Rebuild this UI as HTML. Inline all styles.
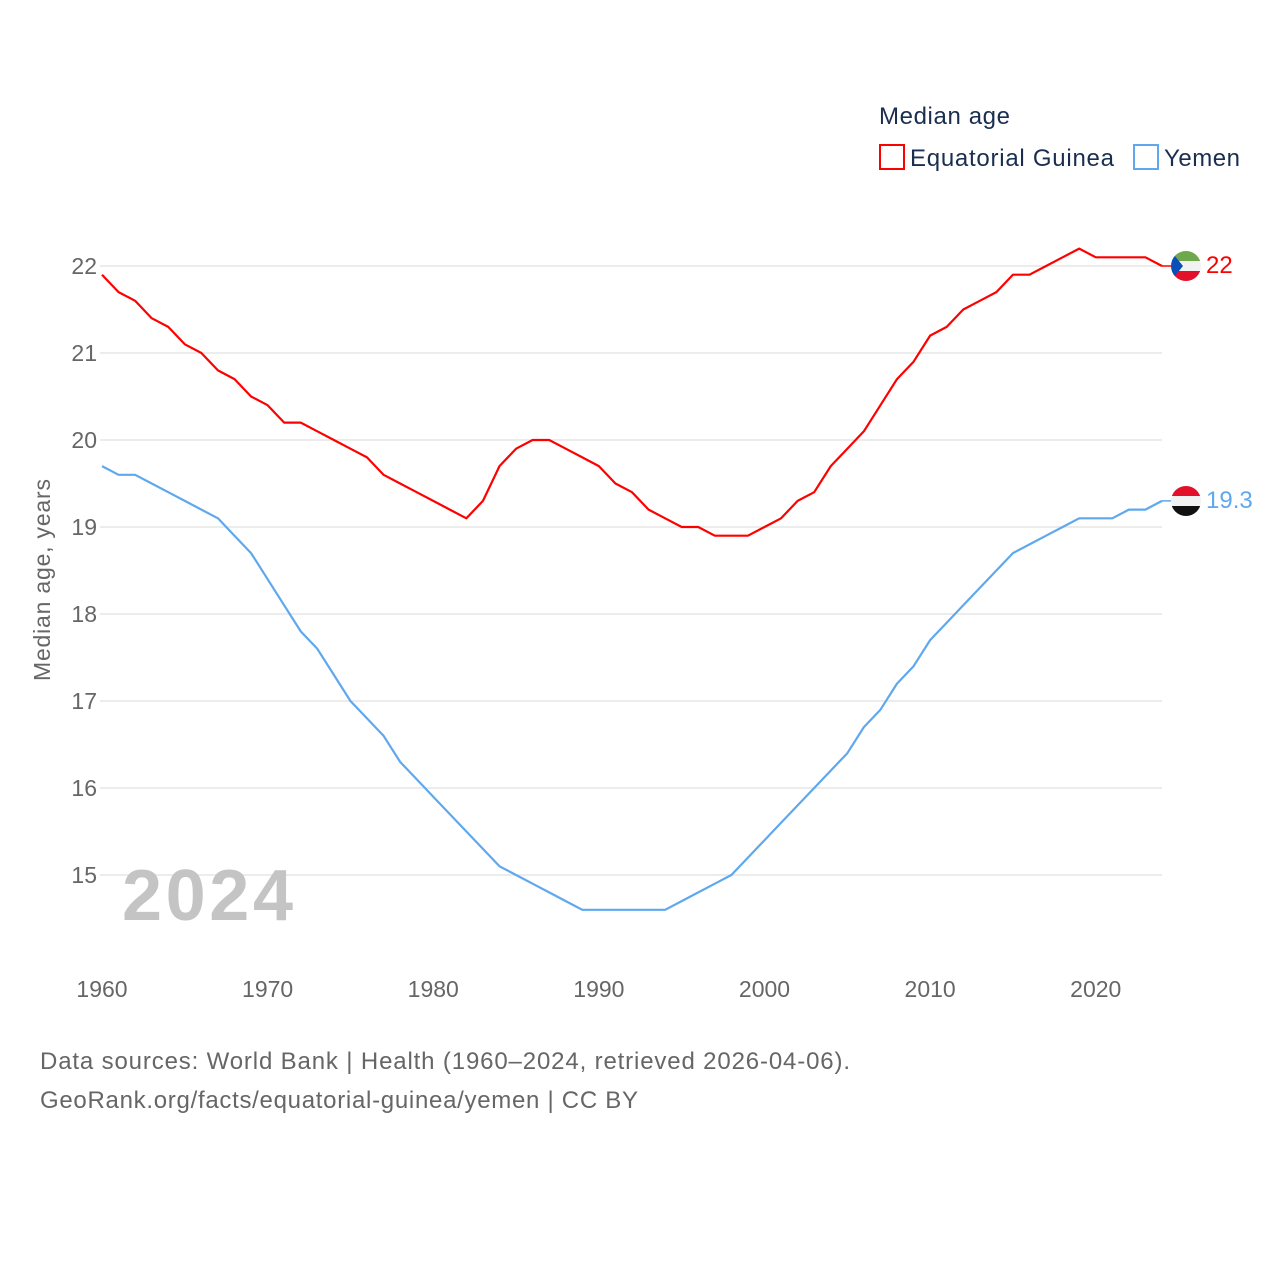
<!DOCTYPE html>
<html><head><meta charset="utf-8">
<style>
body{margin:0;background:#fff;width:1280px;height:1280px;overflow:hidden;font-family:"Liberation Sans",sans-serif;}
svg text{font-family:"Liberation Sans",sans-serif;}
</style></head>
<body>
<svg id="chart" width="1280" height="1280" viewBox="0 0 1280 1280">
<g id="grid"></g>
<g id="yticks"></g>
<g id="xticks"></g>
<text x="50" y="580" transform="rotate(-90 50 580)" text-anchor="middle" font-size="23" fill="#666" textLength="202">Median age, years</text>
<text x="122" y="920" font-size="72" font-weight="bold" fill="#c4c4c4" textLength="171">2024</text>
<g id="series"></g>
<g>
<text x="879" y="124" font-size="24" fill="#1a2e4f" textLength="131">Median age</text>
<g>
<rect x="880" y="145" width="24" height="24" fill="none" stroke="#ff0000" stroke-width="2"/>
<text x="910" y="166" font-size="24" fill="#1a2e4f" textLength="204">Equatorial Guinea</text></g>
<g>
<rect x="1134" y="145" width="24" height="24" fill="none" stroke="#5fa8ee" stroke-width="2"/>
<text x="1164" y="166" font-size="24" fill="#1a2e4f" textLength="76">Yemen</text></g>
</g>
<g>
<clipPath id="c1"><circle cx="1186" cy="266" r="15"/></clipPath>
<g clip-path="url(#c1)"><rect x="1170" y="250" width="32" height="11" fill="#6fa84a"/><rect x="1170" y="261" width="32" height="10" fill="#f2f2f2"/><rect x="1170" y="271" width="32" height="12" fill="#e3102a"/><polygon points="1170,250 1183,266 1170,282" fill="#0a4fb8"/></g></g>
<g>
<clipPath id="c2"><circle cx="1186" cy="501" r="15"/></clipPath>
<g clip-path="url(#c2)"><rect x="1170" y="485" width="32" height="11" fill="#e3102a"/><rect x="1170" y="496" width="32" height="10" fill="#f2f2f2"/><rect x="1170" y="506" width="32" height="12" fill="#111"/></g></g>
<text x="40" y="1069" font-size="24" fill="#666" textLength="810">Data sources: World Bank | Health (1960–2024, retrieved 2026-04-06).</text>
<text x="40" y="1108" font-size="24" fill="#666" textLength="598">GeoRank.org/facts/equatorial-guinea/yemen | CC BY</text>
</svg>
<script>
const years=[];for(let y=1960;y<=2024;y++)years.push(y);
const eqGuinea=[21.9,21.7,21.6,21.4,21.3,21.1,21.0,20.8,20.7,20.5,20.4,20.2,20.2,20.1,20.0,19.9,19.8,19.6,19.5,19.4,19.3,19.2,19.1,19.3,19.7,19.9,20.0,20.0,19.9,19.8,19.7,19.5,19.4,19.2,19.1,19.0,19.0,18.9,18.9,18.9,19.0,19.1,19.3,19.4,19.7,19.9,20.1,20.4,20.7,20.9,21.2,21.3,21.5,21.6,21.7,21.9,21.9,22.0,22.1,22.2,22.1,22.1,22.1,22.1,22.0];
const yemen=[19.7,19.6,19.6,19.5,19.4,19.3,19.2,19.1,18.9,18.7,18.4,18.1,17.8,17.6,17.3,17.0,16.8,16.6,16.3,16.1,15.9,15.7,15.5,15.3,15.1,15.0,14.9,14.8,14.7,14.6,14.6,14.6,14.6,14.6,14.6,14.7,14.8,14.9,15.0,15.2,15.4,15.6,15.8,16.0,16.2,16.4,16.7,16.9,17.2,17.4,17.7,17.9,18.1,18.3,18.5,18.7,18.8,18.9,19.0,19.1,19.1,19.1,19.2,19.2,19.3];
const yTicks=[15,16,17,18,19,20,21,22];
const xTicks=[1960,1970,1980,1990,2000,2010,2020];
const NS='http://www.w3.org/2000/svg';
const X=y=>102+(y-1960)*(1162-102)/64;
const Y=v=>266+(22-v)*87;
function mk(t,a,p){const e=document.createElementNS(NS,t);for(const k in a)e.setAttribute(k,a[k]);p.appendChild(e);return e;}
const grid=document.getElementById('grid'),yt=document.getElementById('yticks'),xt=document.getElementById('xticks'),ser=document.getElementById('series');
yTicks.forEach(v=>{
 const l=mk('line',{x1:100,x2:1162,y1:Y(v),y2:Y(v),stroke:'#e6e6e6','stroke-width':1.5},grid);
 
 
 const t=mk('text',{x:97,y:Y(v)+8,'text-anchor':'end','font-size':23,fill:'#666'},yt);t.textContent=v;
 
 
});
xTicks.forEach(v=>{
 const t=mk('text',{x:X(v),y:997,'text-anchor':'middle','font-size':23,fill:'#666'},xt);t.textContent=v;
 
 
});
function line(d,c,name){
 const p=mk('polyline',{points:d.map((v,i)=>X(years[i])+','+Y(v)).join(' '),fill:'none',stroke:c,'stroke-width':2.2,'stroke-linejoin':'round'},ser);
 
 
 const last=d[d.length-1];
 mk('line',{x1:X(2024),x2:1172,y1:Y(last),y2:Y(last),stroke:c,'stroke-width':1.5},ser);
 const t=mk('text',{x:1206,y:Y(last)+7,'font-size':24,fill:c},ser);t.textContent=last;
 
 
}
line(eqGuinea,'#ff0000','line-equatorial-guinea');
line(yemen,'#5fa8ee','line-yemen');
</script>
</body></html>
